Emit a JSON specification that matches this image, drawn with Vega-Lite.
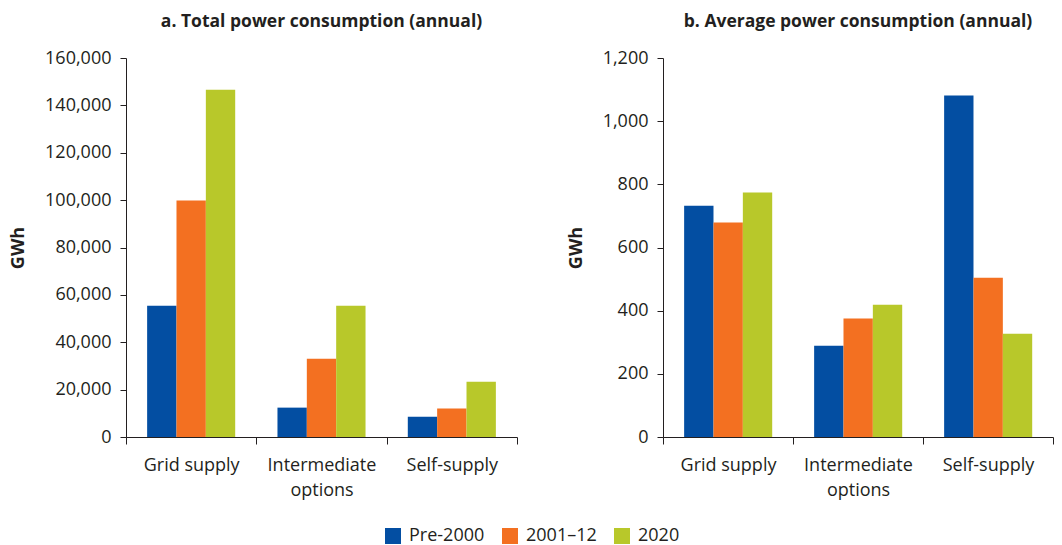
{
  "$schema": "https://vega.github.io/schema/vega-lite/v6.json",
  "background": "white",
  "padding": {"left": 9, "top": 12, "right": 10, "bottom": 5},
  "datasets": {
    "total": [
      {"category": "Grid supply", "period": "Pre-2000", "value": 55400},
      {"category": "Grid supply", "period": "2001–12", "value": 99800},
      {"category": "Grid supply", "period": "2020", "value": 146600},
      {"category": "Intermediate options", "period": "Pre-2000", "value": 12400},
      {"category": "Intermediate options", "period": "2001–12", "value": 33000},
      {"category": "Intermediate options", "period": "2020", "value": 55400},
      {"category": "Self-supply", "period": "Pre-2000", "value": 8600},
      {"category": "Self-supply", "period": "2001–12", "value": 12000},
      {"category": "Self-supply", "period": "2020", "value": 23300}
    ],
    "avg": [
      {"category": "Grid supply", "period": "Pre-2000", "value": 732},
      {"category": "Grid supply", "period": "2001–12", "value": 679},
      {"category": "Grid supply", "period": "2020", "value": 774},
      {"category": "Intermediate options", "period": "Pre-2000", "value": 289},
      {"category": "Intermediate options", "period": "2001–12", "value": 375},
      {"category": "Intermediate options", "period": "2020", "value": 419},
      {"category": "Self-supply", "period": "Pre-2000", "value": 1081},
      {"category": "Self-supply", "period": "2001–12", "value": 504},
      {"category": "Self-supply", "period": "2020", "value": 327}
    ]
  },
  "hconcat": [
    {
      "data": {"name": "total"},
      "width": 391,
      "height": 379,
      "title": {"text": "a. Total power consumption (annual)"},
      "mark": {"type": "bar"},
      "encoding": {
        "x": {
          "field": "category", "type": "nominal",
          "sort": ["Grid supply", "Intermediate options", "Self-supply"],
          "scale": {"paddingInner": 0, "paddingOuter": 0},
          "title": null,
          "axis": {"labelExpr": "datum.label == 'Intermediate options' ? ['Intermediate', 'options'] : datum.label"}
        },
        "xOffset": {
          "field": "period", "type": "nominal",
          "sort": ["Pre-2000", "2001–12", "2020"],
          "scale": {"paddingInner": 0, "paddingOuter": 0.72}
        },
        "y": {
          "field": "value", "type": "quantitative",
          "scale": {"domain": [0, 160000], "nice": false},
          "title": "GWh",
          "axis": {"values": [0, 20000, 40000, 60000, 80000, 100000, 120000, 140000, 160000], "format": ",.0f"}
        },
        "color": {
          "field": "period", "type": "nominal",
          "sort": ["Pre-2000", "2001–12", "2020"],
          "scale": {"domain": ["Pre-2000", "2001–12", "2020"], "range": ["#034EA2", "#F37021", "#B8C82A"]},
          "legend": {"title": null}
        }
      }
    },
    {
      "data": {"name": "avg"},
      "width": 390,
      "height": 379,
      "title": {"text": "b. Average power consumption (annual)"},
      "mark": {"type": "bar"},
      "encoding": {
        "x": {
          "field": "category", "type": "nominal",
          "sort": ["Grid supply", "Intermediate options", "Self-supply"],
          "scale": {"paddingInner": 0, "paddingOuter": 0},
          "title": null,
          "axis": {"labelExpr": "datum.label == 'Intermediate options' ? ['Intermediate', 'options'] : datum.label"}
        },
        "xOffset": {
          "field": "period", "type": "nominal",
          "sort": ["Pre-2000", "2001–12", "2020"],
          "scale": {"paddingInner": 0, "paddingOuter": 0.72}
        },
        "y": {
          "field": "value", "type": "quantitative",
          "scale": {"domain": [0, 1200], "nice": false},
          "title": "GWh",
          "axis": {"values": [0, 200, 400, 600, 800, 1000, 1200], "format": ",.0f"}
        },
        "color": {
          "field": "period", "type": "nominal",
          "sort": ["Pre-2000", "2001–12", "2020"],
          "scale": {"domain": ["Pre-2000", "2001–12", "2020"], "range": ["#034EA2", "#F37021", "#B8C82A"]},
          "legend": {"title": null}
        }
      }
    }
  ],
  "spacing": 49,
  "resolve": {"scale": {"y": "independent"}},
  "config": {
    "font": "Open Sans",
    "view": {"stroke": null},
    "title": {"fontSize": 17.5, "fontWeight": "bold", "color": "#231F20", "anchor": "middle", "offset": 19},
    "axis": {
      "grid": false,
      "domainColor": "#231F20",
      "tickColor": "#231F20",
      "labelColor": "#231F20",
      "titleColor": "#231F20",
      "labelFontSize": 18,
      "titleFontSize": 18,
      "titleFontWeight": "bold",
      "labelFont": "Open Sans",
      "titleFont": "Open Sans"
    },
    "axisY": {"tickSize": 6, "labelPadding": 9, "titlePadding": 17},
    "axisX": {"labelAngle": 0, "tickBand": "extent", "tickSize": 7, "labelPadding": 12, "labelLineHeight": 25, "labelBaseline": "top"},
    "legend": {
      "orient": "bottom",
      "direction": "horizontal",
      "symbolType": "square",
      "symbolSize": 256,
      "symbolStrokeWidth": 0,
      "labelFontSize": 18,
      "labelColor": "#231F20",
      "labelOffset": 7,
      "columnPadding": 16,
      "offset": 28,
      "layout": {"bottom": {"anchor": "middle"}}
    }
  }
}
